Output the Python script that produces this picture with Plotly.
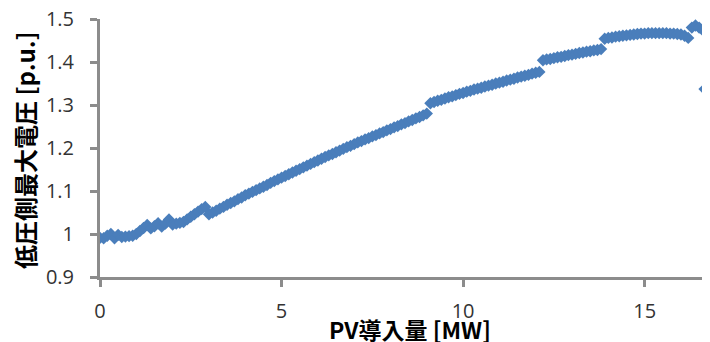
import plotly.graph_objects as go

# PV penetration [MW]
pv_mw = [
    0.0, 0.1, 0.2, 0.3, 0.4, 0.5, 0.6, 0.7, 0.8, 0.9,
    1.0, 1.1, 1.2, 1.3, 1.4, 1.5, 1.6, 1.7, 1.8, 1.9,
    2.0, 2.1, 2.2, 2.3, 2.4, 2.5, 2.6, 2.7, 2.8, 2.9,
    3.0, 3.1, 3.2, 3.3, 3.4, 3.5, 3.6, 3.7, 3.8, 3.9,
    4.0, 4.1, 4.2, 4.3, 4.4, 4.5, 4.6, 4.7, 4.8, 4.9,
    5.0, 5.1, 5.2, 5.3, 5.4, 5.5, 5.6, 5.7, 5.8, 5.9,
    6.0, 6.1, 6.2, 6.3, 6.4, 6.5, 6.6, 6.7, 6.8, 6.9,
    7.0, 7.1, 7.2, 7.3, 7.4, 7.5, 7.6, 7.7, 7.8, 7.9,
    8.0, 8.1, 8.2, 8.3, 8.4, 8.5, 8.6, 8.7, 8.8, 8.9,
    9.0, 9.1, 9.2, 9.3, 9.4, 9.5, 9.6, 9.7, 9.8, 9.9,
    10.0, 10.1, 10.2, 10.3, 10.4, 10.5, 10.6, 10.7, 10.8, 10.9,
    11.0, 11.1, 11.2, 11.3, 11.4, 11.5, 11.6, 11.7, 11.8, 11.9,
    12.0, 12.1, 12.2, 12.3, 12.4, 12.5, 12.6, 12.7, 12.8, 12.9,
    13.0, 13.1, 13.2, 13.3, 13.4, 13.5, 13.6, 13.7, 13.8, 13.9,
    14.0, 14.1, 14.2, 14.3, 14.4, 14.5, 14.6, 14.7, 14.8, 14.9,
    15.0, 15.1, 15.2, 15.3, 15.4, 15.5, 15.6, 15.7, 15.8, 15.9,
    16.0, 16.1, 16.2, 16.3, 16.4, 16.5, 16.6, 16.65,
]

# Maximum low-voltage-side voltage [p.u.]
max_voltage_pu = [
    0.991, 0.990, 0.996, 1.000, 0.990, 0.998, 0.993, 0.994, 0.995, 0.996,
    1.000, 1.007, 1.014, 1.021, 1.013, 1.018, 1.025, 1.017, 1.024, 1.034,
    1.022, 1.024, 1.026, 1.028, 1.034, 1.040, 1.046, 1.052, 1.058, 1.063,
    1.046, 1.050, 1.054, 1.059, 1.063, 1.068, 1.072, 1.076, 1.081, 1.085,
    1.090, 1.094, 1.098, 1.102, 1.106, 1.110, 1.114, 1.119, 1.123, 1.127,
    1.131, 1.135, 1.139, 1.143, 1.147, 1.151, 1.155, 1.159, 1.163, 1.167,
    1.171, 1.175, 1.179, 1.183, 1.186, 1.190, 1.194, 1.198, 1.202, 1.205,
    1.209, 1.213, 1.216, 1.220, 1.223, 1.227, 1.230, 1.234, 1.237, 1.241,
    1.244, 1.248, 1.251, 1.255, 1.258, 1.262, 1.265, 1.269, 1.272, 1.276,
    1.280, 1.304, 1.307, 1.310, 1.312, 1.315, 1.318, 1.320, 1.323, 1.326,
    1.328, 1.331, 1.333, 1.336, 1.338, 1.340, 1.343, 1.345, 1.347, 1.350,
    1.352, 1.354, 1.357, 1.359, 1.361, 1.364, 1.366, 1.368, 1.370, 1.373,
    1.375, 1.377, 1.404, 1.406, 1.407, 1.409, 1.411, 1.412, 1.414, 1.416,
    1.417, 1.419, 1.421, 1.422, 1.424, 1.425, 1.427, 1.428, 1.430, 1.454,
    1.456, 1.457, 1.459, 1.460, 1.461, 1.462, 1.463, 1.464, 1.465, 1.466,
    1.466, 1.467, 1.467, 1.467, 1.467, 1.467, 1.467, 1.466, 1.466, 1.465,
    1.464, 1.461, 1.456, 1.480, 1.485, 1.480, 1.474, 1.337,
]

x_tick_vals = [0, 5, 10, 15]
x_tick_text = ["0", "5", "10", "15"]
y_tick_vals = [0.9, 1.0, 1.1, 1.2, 1.3, 1.4, 1.5]
y_tick_text = ["0.9", "1", "1.1", "1.2", "1.3", "1.4", "1.5"]

x_title = "PV導入量 [MW]"
y_title = "低圧側最大電圧 [p.u.]"

axis_gray = "#8c8c8c"
tick_font = dict(family="Open Sans, Noto Sans, sans-serif", size=20, color="#333333")
x_title_font = dict(family="Noto Sans CJK JP, sans-serif", size=23, color="#000000", weight="bold")
y_title_font = dict(family="Noto Sans CJK JP, sans-serif", size=24, color="#000000", weight="bold")

fig = go.Figure()
fig.add_trace(go.Scatter(
    x=pv_mw,
    y=max_voltage_pu,
    mode="markers",
    marker=dict(symbol="diamond", size=9.5, color="#4a7ebb", line=dict(width=0)),
    showlegend=False,
))

# The page body adds an 8 px margin, so the figure is sized to fill the rest of the window.
fig.update_layout(
    width=702,
    height=334,
    margin=dict(l=92, r=0, t=11, b=65, autoexpand=False),
    paper_bgcolor="white",
    plot_bgcolor="white",
    annotations=[
        dict(text=x_title, xref="paper", yref="paper", x=0.5, y=0,
             xanchor="center", yanchor="middle", yshift=-52, xshift=5,
             showarrow=False, font=x_title_font),
        dict(text=y_title, xref="paper", yref="paper", x=0, y=0.5,
             xanchor="center", yanchor="middle", xshift=-76, yshift=-2,
             textangle=-90, showarrow=False, font=y_title_font),
    ],
)

fig.update_xaxes(
    range=[0, 16.8],
    automargin=False,
    tickvals=x_tick_vals,
    ticktext=x_tick_text,
    showgrid=False,
    zeroline=False,
    showline=True,
    linecolor=axis_gray,
    linewidth=3,
    ticks="outside",
    tickcolor=axis_gray,
    tickwidth=3,
    ticklen=7,
    tickfont=tick_font,
    ticklabelstandoff=7,
    ticklabeloverflow="allow",
)

fig.update_yaxes(
    range=[0.9, 1.5],
    automargin=False,
    tickvals=y_tick_vals,
    ticktext=y_tick_text,
    showgrid=False,
    zeroline=False,
    showline=True,
    linecolor=axis_gray,
    linewidth=3,
    ticks="outside",
    tickcolor=axis_gray,
    tickwidth=3,
    ticklen=7,
    tickfont=tick_font,
    ticklabelstandoff=12,
    ticklabeloverflow="allow",
)

fig.write_html("out.html")
